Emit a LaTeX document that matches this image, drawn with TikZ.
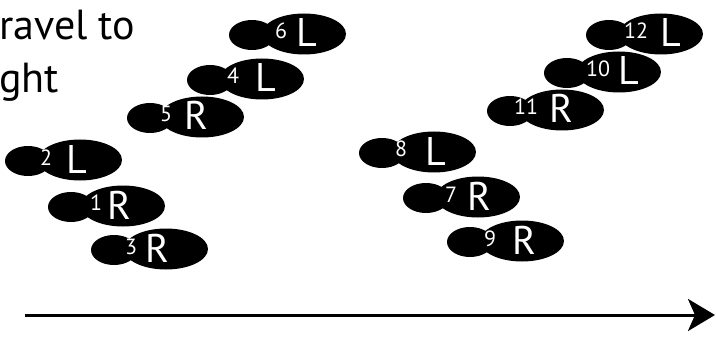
\documentclass[tikz,border=0pt]{standalone}
\usepackage{fontspec}
\setmainfont{PT Sans}
\usetikzlibrary{arrows.meta}

% one footprint: heel blob on the left, sole on the right, step number and foot letter in white
% #1 name, #2 left edge, #3 centre line, #4 number, #5 number x, #6 letter, #7 letter x
\newcommand\footprint[7]{%
  \fill[footfill] (#2+22,#3+1) ellipse [x radius=23, y radius=15];
  \fill[footfill] (#2+74,#3) ellipse [x radius=42, y radius=20.5];
  \node[numtxt, anchor=base west] (#1num) at (#5,#3+5) {#4};
  \node[lettxt, anchor=base west] (#1let) at (#7,#3+13) {#6};
}

\begin{document}
\begin{tikzpicture}[x=1pt, y=-1pt,
  footfill/.style={black},
  numtxt/.style={white, inner sep=0pt, font=\fontsize{22}{22}\selectfont},
  lettxt/.style={white, inner sep=0pt, font=\fontsize{40}{40}\selectfont},
  title/.style={inner sep=0pt, anchor=base west, font=\fontsize{42}{42}\selectfont}]
\useasboundingbox (0,0) rectangle (716,337);

% heading lines
\node[title] (line1) at (-1,40) {ravel to};
\node[title] (line2) at (-1,93) {ght};

% first group
\footprint{f6}{230}{34}{6}{275}{L}{296}
\footprint{f4}{188}{79}{4}{227}{L}{255}
\footprint{f5}{128}{117}{5}{160}{R}{184}
\footprint{f2}{6}{160}{2}{40}{L}{66}
\footprint{f1}{49}{206}{1}{90}{R}{107}
\footprint{f3}{92}{249}{3}{125}{R}{145}

% second group
\footprint{f12}{587}{34}{12}{624}{L}{660}
\footprint{f10}{545}{72}{10}{586}{L}{618}
\footprint{f11}{488}{110}{11}{514}{R}{549}
\footprint{f8}{360}{152}{8}{395}{L}{425}
\footprint{f7}{404}{197}{7}{445}{R}{467}
\footprint{f9}{448}{241}{9}{484}{R}{512}

% direction of travel
\coordinate (astart) at (25,315);
\coordinate (aend) at (715,315);
\draw[line width=3pt, -{Stealth[length=27pt, width=32pt, inset=7pt]}] (astart) -- (aend);
\end{tikzpicture}
\end{document}
